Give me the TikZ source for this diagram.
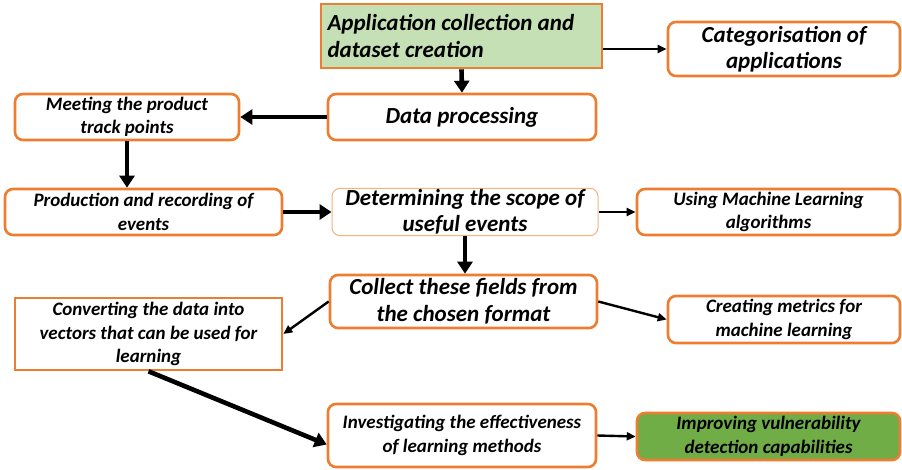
\documentclass[tikz,border=0pt]{standalone}
\usepackage{fontspec}
\setmainfont{Carlito}
\usetikzlibrary{arrows.meta}
\definecolor{boxorange}{HTML}{ED7D31}
\definecolor{paleorange}{HTML}{F4B183}
\definecolor{palegreen}{HTML}{C5E0B4}
\definecolor{deepgreen}{HTML}{70AD47}
\tikzset{
  x=1pt, y=1pt,
  box/.style={draw=boxorange, line width=2.6pt, rounded corners=8pt, fill=white,
    align=center, inner sep=1pt, font=\bfseries\itshape},
  big/.style={font=\fontsize{23}{26.5}\selectfont\bfseries\itshape},
  small/.style={font=\fontsize{19}{23.5}\selectfont\bfseries\itshape},
  heavy/.style={line width=4.6pt, -{Triangle[length=12pt, width=15pt]}},
  light/.style={line width=2.4pt, -{Triangle[length=9pt, width=8pt]}},
}
\begin{document}
\begin{tikzpicture}
\useasboundingbox (0,0) rectangle (902,469);
% top row
\node[box, big, rounded corners=0pt, fill=palegreen, minimum width=281, minimum height=64, align=flush left, text width=268]
  (app) at (461.5,433) {Application collection and\\dataset creation};
\node[box, big, minimum width=232, minimum height=54] (cat) at (784,420) {Categorisation of\\applications};
% second row
\node[box, big, minimum width=268, minimum height=46] (dp) at (462,352) {Data processing};
\node[box, small, minimum width=224, minimum height=46] (meet) at (127,352) {Meeting the product\\track points};
% third row
\node[box, small, minimum width=277, minimum height=46] (prod) at (143.5,257) {Production and recording of\\events};
\node[box, big, draw=paleorange, line width=1pt, minimum width=266, minimum height=46] (det) at (465,257) {Determining the scope of\\useful events};
\node[box, small, minimum width=263, minimum height=46] (ml) at (768.5,257) {Using Machine Learning\\algorithms};
% fourth row
\node[box, big, minimum width=267, minimum height=53] (coll) at (463.5,167.5) {Collect these fields from\\the chosen format};
\node[box, small, rounded corners=0pt, minimum width=267, minimum height=72] (conv) at (148.5,135) {Converting the data into\\vectors that can be used for\\learning};
\node[box, small, minimum width=232, minimum height=47] (met) at (784,149.5) {Creating metrics for\\machine learning};
% bottom row
\node[box, small, minimum width=268, minimum height=63] (inv) at (462,33.5) {Investigating the effectiveness\\of learning methods};
\node[box, small, fill=deepgreen, minimum width=263, minimum height=47] (imp) at (768.5,32.5) {Improving vulnerability\\detection capabilities};
% connectors
\draw[heavy] (app.south) -- (dp.north);
\draw[light] (app.east |- cat.west) -- (cat.west);
\draw[heavy] (dp.west) -- (meet.east);
\draw[heavy] (meet.south) -- (meet.south |- prod.north);
\draw[heavy] (prod.east) -- (det.west);
\draw[light] (det.east) -- (ml.west);
\draw[heavy] (det.south) -- (det.south |- coll.north);
\draw[light] (coll.west) -- (conv.east);
\draw[light] (coll.east) -- (met.west);
\draw[heavy] (conv.south) -- ([yshift=-9pt]inv.west);
\draw[light] (inv.east) -- (imp.west);
\end{tikzpicture}
\end{document}
